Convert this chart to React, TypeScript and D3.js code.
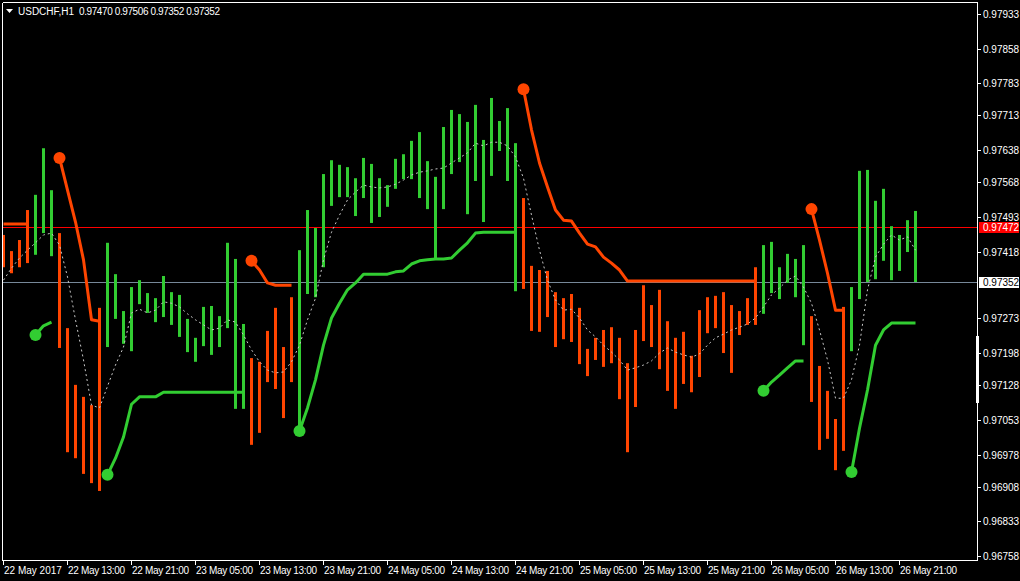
import React from 'react';
import * as d3 from 'd3';

const N = null;

const highs = [
  0.97454, 0.97419, 0.97443, 0.97508, 0.97541, 0.97642, 0.97551, 0.97458, 0.97252, 0.97129,
  0.97103, 0.97085, 0.97296, 0.97437, 0.97369, 0.97289, 0.97341, 0.97356, 0.97328, 0.97317,
  0.97365, 0.97330, 0.97324, 0.97272, 0.97231, 0.97298, 0.97300, 0.97278, 0.97437, 0.97402,
  0.97261, 0.97187, 0.97179, 0.97246, 0.97296, 0.97211, 0.97319, 0.97421, 0.97508, 0.97469,
  0.97586, 0.97616, 0.97606, 0.97601, 0.97577, 0.97621, 0.97608, 0.97577, 0.97562, 0.97619,
  0.97629, 0.97658, 0.97677, 0.97614, 0.97580, 0.97688, 0.97725, 0.97716, 0.97699, 0.97736,
  0.97660, 0.97751, 0.97701, 0.97729, 0.97653, 0.97534, 0.97387, 0.97378, 0.97376, 0.97330,
  0.97317, 0.97326, 0.97296, 0.97207, 0.97231, 0.97248, 0.97254, 0.97231, 0.97176, 0.97248,
  0.97345, 0.97302, 0.97335, 0.97267, 0.97231, 0.97244, 0.97192, 0.97291, 0.97319, 0.97322,
  0.97330, 0.97302, 0.97289, 0.97317, 0.97384, 0.97432, 0.97439, 0.97384, 0.97413, 0.97402,
  0.97432, 0.97278, 0.97170, 0.97116, 0.97055, 0.97298, 0.97341, 0.97593, 0.97595, 0.97528,
  0.97554, 0.97473, 0.97454, 0.97486, 0.97506,
];

const lows = [
  0.97384, 0.97371, 0.97384, 0.97393, 0.97411, 0.97458, 0.97408, 0.97209, 0.96983, 0.96970,
  0.96936, 0.96916, 0.96899, 0.97211, 0.97272, 0.97218, 0.97202, 0.97304, 0.97285, 0.97265,
  0.97276, 0.97259, 0.97233, 0.97200, 0.97179, 0.97213, 0.97194, 0.97211, 0.97252, 0.97077,
  0.97077, 0.96999, 0.97025, 0.97135, 0.97120, 0.97057, 0.97135, 0.97031, 0.97326, 0.97319,
  0.97384, 0.97517, 0.97536, 0.97536, 0.97495, 0.97534, 0.97480, 0.97493, 0.97515, 0.97554,
  0.97575, 0.97575, 0.97534, 0.97510, 0.97402, 0.97510, 0.97586, 0.97612, 0.97499, 0.97571,
  0.97482, 0.97582, 0.97636, 0.97571, 0.97332, 0.97337, 0.97246, 0.97244, 0.97276, 0.97211,
  0.97228, 0.97222, 0.97174, 0.97148, 0.97183, 0.97168, 0.97176, 0.97098, 0.96983, 0.97081,
  0.97224, 0.97211, 0.97163, 0.97116, 0.97077, 0.97131, 0.97113, 0.97146, 0.97241, 0.97252,
  0.97198, 0.97155, 0.97237, 0.97259, 0.97259, 0.97283, 0.97328, 0.97315, 0.97350, 0.97319,
  0.97215, 0.97092, 0.96988, 0.97012, 0.96944, 0.96986, 0.97202, 0.97315, 0.97352, 0.97358,
  0.97398, 0.97356, 0.97376, 0.97417, 0.97352,
];

const maValues = [
  0.97356, 0.97382, 0.97404, 0.97421, 0.97437, 0.97454, 0.97458, 0.97432, 0.97363, 0.97270,
  0.97183, 0.97085, 0.97079, 0.97126, 0.97172, 0.97211, 0.97285, 0.97293, 0.97285, 0.97291,
  0.97309, 0.97306, 0.97298, 0.97283, 0.97270, 0.97259, 0.97248, 0.97252, 0.97270, 0.97265,
  0.97237, 0.97205, 0.97179, 0.97161, 0.97155, 0.97157, 0.97179, 0.97215, 0.97270, 0.97317,
  0.97400, 0.97460, 0.97497, 0.97530, 0.97547, 0.97562, 0.97558, 0.97556, 0.97558, 0.97564,
  0.97573, 0.97584, 0.97590, 0.97593, 0.97597, 0.97599, 0.97610, 0.97621, 0.97632, 0.97653,
  0.97647, 0.97655, 0.97655, 0.97647, 0.97623, 0.97577, 0.97497, 0.97421, 0.97356, 0.97313,
  0.97291, 0.97293, 0.97274, 0.97248, 0.97233, 0.97215, 0.97200, 0.97183, 0.97161, 0.97166,
  0.97172, 0.97181, 0.97198, 0.97209, 0.97200, 0.97194, 0.97189, 0.97196, 0.97215, 0.97231,
  0.97239, 0.97248, 0.97254, 0.97261, 0.97274, 0.97298, 0.97324, 0.97339, 0.97356, 0.97365,
  0.97341, 0.97306, 0.97248, 0.97183, 0.97100, 0.97100, 0.97140, 0.97215, 0.97335, 0.97406,
  0.97434, 0.97454, 0.97443, 0.97450, 0.97421,
];

const downStop: (number | null)[] = [
  0.97478, 0.97478, 0.97478, 0.97478, N, N, N,
  0.97621, 0.97551, 0.97482, 0.97400, 0.97270, 0.97267,
  N, N, N, N, N, N, N, N, N, N, N, N, N, N, N, N, N, N,
  0.97398, 0.97378, 0.97350, 0.97345, 0.97345, 0.97345,
  N, N, N, N, N, N, N, N, N, N, N, N, N, N, N, N, N, N, N, N, N, N, N, N, N, N, N, N,
  0.97770, 0.97682, 0.97610, 0.97558, 0.97508, 0.97486, 0.97484, 0.97458, 0.97434, 0.97428,
  0.97406, 0.97393, 0.97378, 0.97354, 0.97354, 0.97354, 0.97354, 0.97354, 0.97354, 0.97354,
  0.97354, 0.97354, 0.97354, 0.97354, 0.97354, 0.97354, 0.97354, 0.97354, 0.97354, 0.97354,
  N, N, N, N, N, N,
  0.97510, 0.97443, 0.97371, 0.97291, 0.97291,
  N, N, N, N, N, N, N, N, N,
];

const upStop: (number | null)[] = [
  N, N, N, N,
  0.97237, 0.97257, 0.97265,
  N, N, N, N, N, N,
  0.96934, 0.96970, 0.97016, 0.97087, 0.97103, 0.97103, 0.97103,
  0.97113, 0.97113, 0.97113, 0.97113, 0.97113, 0.97113, 0.97113, 0.97113, 0.97113, 0.97113, 0.97113,
  N, N, N, N, N, N,
  0.97029, 0.97079, 0.97140, 0.97215, 0.97274, 0.97306, 0.97335, 0.97350, 0.97369, 0.97369,
  0.97369, 0.97369, 0.97374, 0.97376, 0.97391, 0.97398, 0.97400, 0.97402, 0.97402, 0.97404,
  0.97421, 0.97437, 0.97458, 0.97460, 0.97460, 0.97460, 0.97460, 0.97460,
  N, N, N, N, N, N, N, N, N, N, N, N, N, N, N, N, N, N, N, N, N, N, N, N, N, N, N, N, N, N,
  0.97116, 0.97135, 0.97150, 0.97166, 0.97181, 0.97181,
  N, N, N, N, N,
  0.96940, 0.97035, 0.97118, 0.97215, 0.97248, 0.97263, 0.97263, 0.97263, 0.97263,
];

const priceTicks = [
  0.97933, 0.97858, 0.97783, 0.97713, 0.97638, 0.97568, 0.97493, 0.97418,
  0.97273, 0.97198, 0.97128, 0.97053, 0.96978, 0.96908, 0.96833, 0.96758,
];

const timeLabels = [
  '22 May 2017', '22 May 13:00', '22 May 21:00', '23 May 05:00', '23 May 13:00',
  '23 May 21:00', '24 May 05:00', '24 May 13:00', '24 May 21:00', '25 May 05:00',
  '25 May 13:00', '25 May 21:00', '26 May 05:00', '26 May 13:00', '26 May 21:00',
];
const timeLabelBars = [0, 8, 16, 24, 32, 40, 48, 56, 64, 72, 80, 88, 96, 104, 112];

const askPrice = 0.97472;
const bidPrice = 0.97352;
const titleSymbol = 'USDCHF,H1';
const titleValues = '0.97470 0.97506 0.97352 0.97352';

const GREEN = '#32CD32';
const ORANGE = '#FF4500';
const FONT = '"Liberation Sans", Arial, sans-serif';

export default function App() {
  const W = 1020;
  const H = 581;
  const left = 2.5, top = 2.5, right = 977.5, bottom = 560.5;

  const x = d3.scaleLinear().domain([0, highs.length - 1]).range([3.5, 3.5 + 8 * (highs.length - 1)]);
  const y = d3.scaleLinear().domain([0.96758, 0.97933]).range([556, 14]);

  const stopLine = d3
    .line<number | null>()
    .defined((d) => d != null)
    .x((_, i) => x(i))
    .y((d) => y(d as number));

  const maLine = d3
    .line<number>()
    .x((_, i) => x(i))
    .y((d) => y(d));

  const starts = (arr: (number | null)[]) =>
    arr
      .map((v, i) => (v != null && i > 0 && arr[i - 1] == null ? i : -1))
      .filter((i) => i >= 0);

  const downStarts = starts(downStop);
  const upStarts = starts(upStop);

  const askY = Math.round(y(askPrice)) + 0.5;
  const bidY = Math.round(y(bidPrice)) + 0.5;

  return (
    <svg
      width={W}
      height={H}
      style={{ position: 'absolute', left: 0, top: 0, display: 'block' }}
      fontFamily={FONT}
    >
      <rect x={0} y={0} width={W} height={H} fill="#000" />
      <defs>
        <clipPath id="plotClip">
          <rect x={3} y={3} width={974} height={557} />
        </clipPath>
      </defs>

      <g clipPath="url(#plotClip)">
        <line x1={left} x2={right} y1={askY} y2={askY} stroke="#FF0000" strokeWidth={1} shapeRendering="crispEdges" />
        <line x1={left} x2={right} y1={bidY} y2={bidY} stroke="#778899" strokeWidth={1} shapeRendering="crispEdges" />

        {highs.map((h, i) => (
          <rect
            key={i}
            x={x(i) - 1.5}
            y={y(h)}
            width={3}
            height={Math.max(1, y(lows[i]) - y(h))}
            fill={upStop[i] != null ? GREEN : ORANGE}
          />
        ))}

        <path d={maLine(maValues) || ''} fill="none" stroke="#C8C8C8" strokeWidth={1} strokeDasharray="2,3" />

        <path d={stopLine(downStop) || ''} fill="none" stroke={ORANGE} strokeWidth={3} strokeLinejoin="round" />
        <path d={stopLine(upStop) || ''} fill="none" stroke={GREEN} strokeWidth={3} strokeLinejoin="round" />

        {downStarts.map((i) => (
          <circle key={'d' + i} cx={x(i)} cy={y(downStop[i] as number)} r={6} fill={ORANGE} />
        ))}
        {upStarts.map((i) => (
          <circle key={'u' + i} cx={x(i)} cy={y(upStop[i] as number)} r={6} fill={GREEN} />
        ))}
      </g>

      {/* frame */}
      <g shapeRendering="crispEdges">
        <line x1={left} x2={right} y1={top} y2={top} stroke="#fff" />
        <line x1={left} x2={left} y1={top} y2={bottom} stroke="#fff" />
        <line x1={right} x2={right} y1={top} y2={bottom} stroke="#fff" />
        <line x1={left} x2={right} y1={bottom} y2={bottom} stroke="#fff" />
        <rect x={976} y={336} width={3} height={67} fill="#fff" />
      </g>

      {/* price axis */}
      {priceTicks.map((p) => {
        const py = Math.round(y(p)) + 0.5;
        return (
          <g key={p}>
            <line x1={978} x2={981} y1={py} y2={py} stroke="#fff" shapeRendering="crispEdges" />
            <text x={983} y={py} dy="0.35em" fill="#fff" fontSize={10}>
              {p.toFixed(5)}
            </text>
          </g>
        );
      })}

      <rect x={979} y={askY - 5.5} width={40} height={11} fill="#FF0000" />
      <text x={983} y={askY} dy="0.35em" fill="#fff" fontSize={10}>
        {askPrice.toFixed(5)}
      </text>
      <rect x={979} y={bidY - 5.5} width={40} height={11} fill="#fff" />
      <text x={983} y={bidY} dy="0.35em" fill="#000" fontSize={10}>
        {bidPrice.toFixed(5)}
      </text>

      {/* time axis */}
      {timeLabels.map((t, k) => {
        const tx = Math.round(x(timeLabelBars[k]) - 0.5) + 0.5;
        return (
          <g key={t}>
            <line x1={tx} x2={tx} y1={bottom} y2={bottom + 4} stroke="#fff" shapeRendering="crispEdges" />
            <text x={tx + 0.5} y={574} fill="#fff" fontSize={10} textLength={t.length > 11 ? 57 : undefined}>
              {t}
            </text>
          </g>
        );
      })}

      {/* title */}
      <path d="M6,9 L13,9 L9.5,13 Z" fill="#fff" />
      <text x={18} y={14.5} fill="#fff" fontSize={10}>
        {titleSymbol}
      </text>
      <text x={79} y={14.5} fill="#fff" fontSize={10} textLength={141}>
        {titleValues}
      </text>
    </svg>
  );
}
